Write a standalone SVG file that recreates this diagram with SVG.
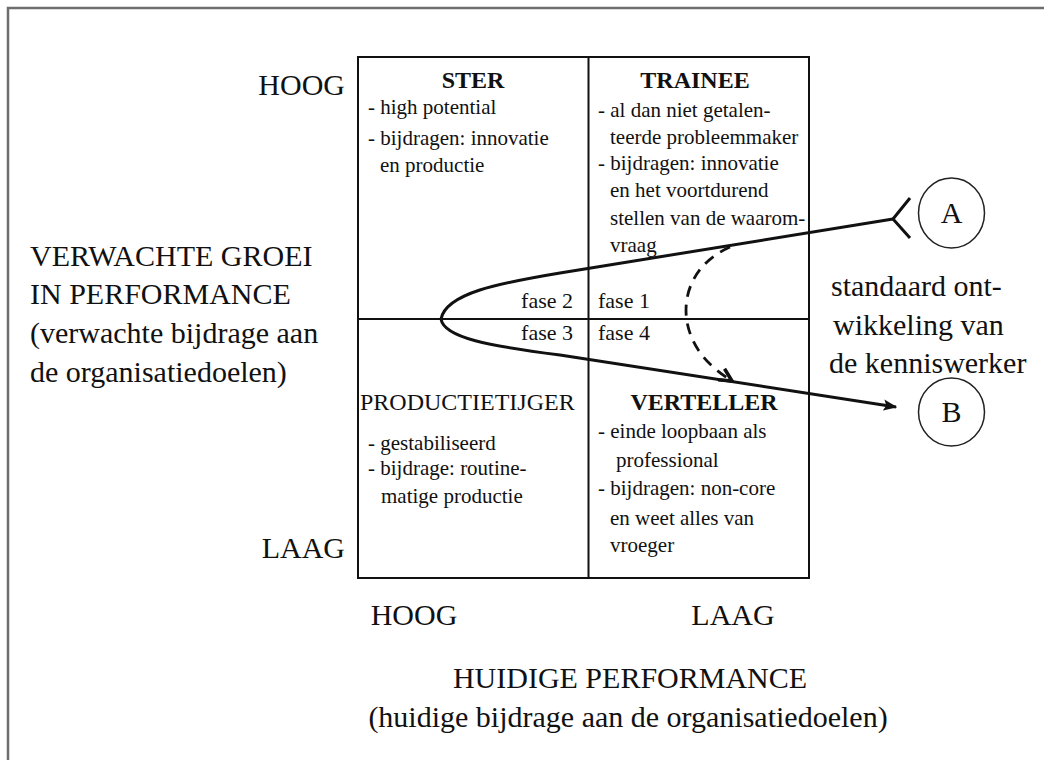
<svg xmlns="http://www.w3.org/2000/svg" width="1044" height="760" viewBox="0 0 1044 760">
<defs>
<style>
text{font-family:"Liberation Serif","Times New Roman",serif;fill:#111;}
.big{font-size:30px;}
.hd{font-size:24px;font-weight:bold;text-anchor:middle;}
.hd2{font-size:24px;}
.b{font-size:21px;}
.fase{font-size:22px;}
.frame{fill:none;stroke:#6e6e6e;stroke-width:2.5;}
.grid{fill:none;stroke:#111;stroke-width:2;}
.curve{fill:none;stroke:#111;stroke-width:3;}
.dash{fill:none;stroke:#111;stroke-width:2.8;stroke-dasharray:11,8;}
.circ{fill:#fff;stroke:#222;stroke-width:1.5;}
</style>
<marker id="ahb" viewBox="0 0 10 10" refX="9" refY="5" markerWidth="14" markerHeight="14" orient="auto" markerUnits="userSpaceOnUse">
<path d="M0,1 L10,5 L0,9 L2,5 Z" fill="#111"/>
</marker>
<marker id="ahd" viewBox="0 0 10 10" refX="9" refY="5" markerWidth="16" markerHeight="16" orient="auto" markerUnits="userSpaceOnUse">
<path d="M1,1 L9,5 L1,9" fill="none" stroke="#111" stroke-width="2.2"/>
</marker>
</defs>

<g id="frame">
<path class="frame" d="M8,760 L8,8 L1044,8"/>
</g>

<g id="matrix">
<rect class="grid" x="358" y="57" width="451" height="521"/>
<line class="grid" x1="588.5" y1="57" x2="588.5" y2="578"/>
<line class="grid" x1="358" y1="319" x2="809" y2="319"/>
</g>

<g id="axis-labels">
<text class="big" x="345" y="95" text-anchor="end">HOOG</text>
<text class="big" x="345" y="558" text-anchor="end">LAAG</text>
<text class="big" x="30" y="266">VERWACHTE GROEI</text>
<text class="big" x="30" y="304">IN PERFORMANCE</text>
<text class="big" x="30" y="343">(verwachte bijdrage aan</text>
<text class="big" x="30" y="382">de organisatiedoelen)</text>
<text class="big" x="414" y="625" text-anchor="middle">HOOG</text>
<text class="big" x="733" y="625" text-anchor="middle">LAAG</text>
<text class="big" x="630" y="688" text-anchor="middle">HUIDIGE PERFORMANCE</text>
<text class="big" x="628" y="727" text-anchor="middle">(huidige bijdrage aan de organisatiedoelen)</text>
</g>

<g id="ster">
<text class="hd" x="473" y="88">STER</text>
<text class="b" x="368" y="114">- high potential</text>
<text class="b" x="368" y="145">- bijdragen:  innovatie</text>
<text class="b" x="380" y="172">en productie</text>
</g>

<g id="trainee">
<text class="hd" x="695" y="88">TRAINEE</text>
<text class="b" x="598" y="117">- al dan niet getalen-</text>
<text class="b" x="610" y="144">teerde probleemmaker</text>
<text class="b" x="598" y="170">- bijdragen: innovatie</text>
<text class="b" x="610" y="197">en het voortdurend</text>
<text class="b" x="610" y="225">stellen van de waarom-</text>
<text class="b" x="610" y="252">vraag</text>
</g>

<g id="productietijger">
<text class="hd2" x="360" y="410">PRODUCTIETIJGER</text>
<text class="b" x="368" y="450">- gestabiliseerd</text>
<text class="b" x="368" y="475">- bijdrage: routine-</text>
<text class="b" x="381" y="503">matige productie</text>
</g>

<g id="verteller">
<text class="hd" x="704" y="410">VERTELLER</text>
<text class="b" x="598" y="438">- einde loopbaan als</text>
<text class="b" x="616" y="467">professional</text>
<text class="b" x="598" y="495">- bijdragen: non-core</text>
<text class="b" x="610" y="525">en weet alles van</text>
<text class="b" x="610" y="552">vroeger</text>
</g>

<g id="fases">
<text class="fase" x="573" y="308" text-anchor="end">fase 2</text>
<text class="fase" x="598" y="308">fase 1</text>
<text class="fase" x="573" y="340" text-anchor="end">fase 3</text>
<text class="fase" x="598" y="340">fase 4</text>
</g>

<g id="node-a">
<ellipse class="circ" cx="951.5" cy="213" rx="33" ry="35"/>
<text class="big" x="951.5" y="223" text-anchor="middle">A</text>
</g>

<g id="node-b">
<ellipse class="circ" cx="951.5" cy="412" rx="33" ry="34"/>
<text class="big" x="951.5" y="422" text-anchor="middle">B</text>
</g>

<g id="side-label">
<text class="big" x="831" y="296">standaard ont-</text>
<text class="big" x="833" y="335">wikkeling van</text>
<text class="big" x="829" y="373">de kenniswerker</text>
</g>

<g id="connectors">
<path class="curve" d="M893,219 L560,273 C500,283 446,293 441,319 C444,338 490,346 560,355 L896,407" marker-end="url(#ahb)"/>
<polyline class="curve" points="910,198 893,219 910,238"/>
<path class="dash" d="M730,247 C696,262 682,292 687,322 C692,348 708,366 732,381" marker-end="url(#ahd)"/>
</g>
</svg>
